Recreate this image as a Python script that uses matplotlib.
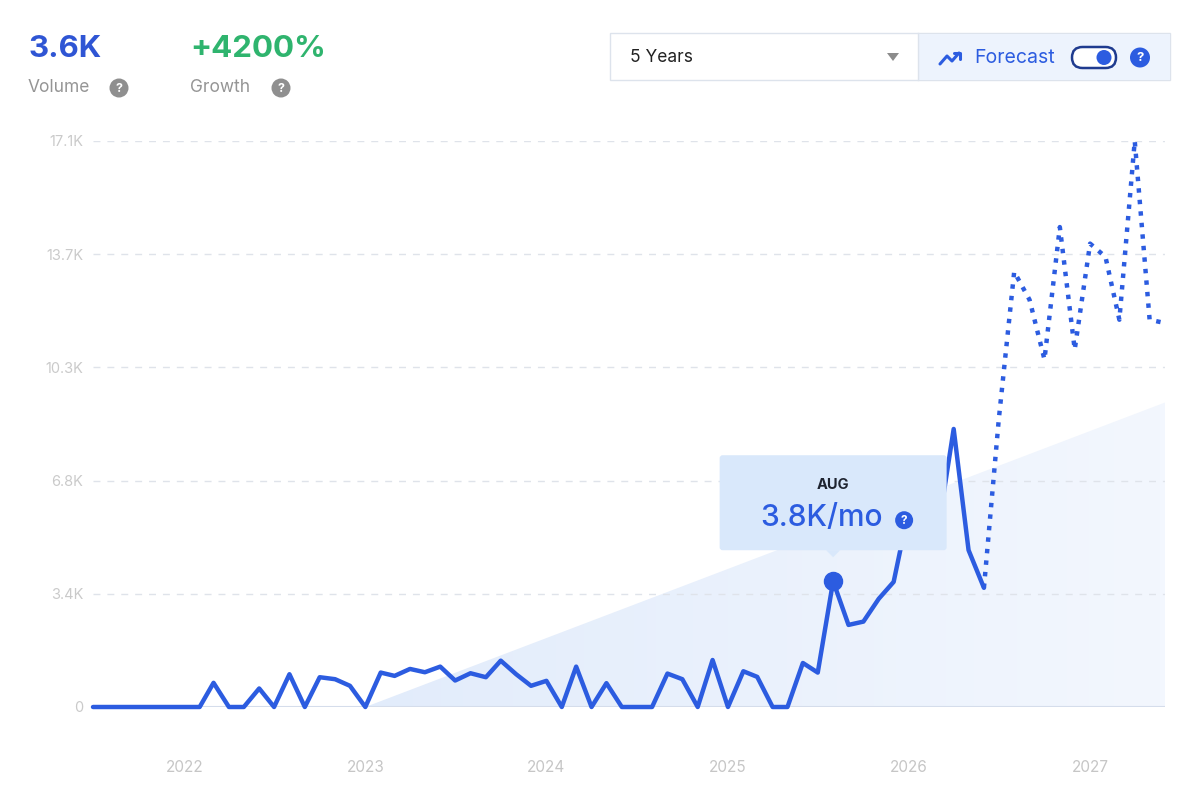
import matplotlib
matplotlib.use('Agg')
import matplotlib.pyplot as plt
import matplotlib.dates as mdates
from matplotlib.colors import LinearSegmentedColormap
from matplotlib.patches import FancyBboxPatch, Rectangle, Circle, Polygon
import numpy as np
import pandas as pd

plt.rcParams['font.family'] = ['Inter', 'DejaVu Sans']

# ---------------- data ----------------
months = pd.date_range('2021-07-01', '2027-06-01', freq='MS')   # 72 months
# measured monthly volume, Jul 2021 .. Jun 2026
actual_values = [
    0, 0, 0, 0, 0, 0, 0, 0, 730, 0, 0, 560,            # Jul21 - Jun22
    0, 990, 0, 900, 840, 640, 0, 1040, 940, 1150, 1050, 1220,   # Jul22 - Jun23
    800, 1020, 900, 1400, 990, 640, 790, 0, 1220, 0, 720, 0,    # Jul23 - Jun24
    0, 0, 1010, 840, 0, 1420, 0, 1080, 910, 0, 0, 1330,         # Jul24 - Jun25
    1040, 3800, 2480, 2580, 3270, 3780, 6000, 6200, 5400, 8400, 4740, 3600,  # Jul25 - Jun26
]
# forecast, Jun 2026 .. Jun 2027
forecast_values = [3600, 8700, 13150, 12300, 10500, 14500, 10800,
                   14000, 13600, 11700, 17100, 11700, 11600]
trend_months = ['2023-01-01', '2027-06-01']
trend_values = [0, 9200]
y_ticks = [0, 3420, 6840, 10260, 13680, 17100]
y_tick_labels = ['0', '3.4K', '6.8K', '10.3K', '13.7K', '17.1K']
year_labels = ['2022', '2023', '2024', '2025', '2026', '2027']
highlight_month = '2025-08-01'
highlight_value = 3800
highlight_label = 'AUG'
highlight_text = '3.8K/mo'
volume_text = '3.6K'
growth_text = '+4200%'
period_text = '5 Years'

# ---------------- styling ----------------
BLUE = '#2c5ce0'
W, H = 1200, 796
fig = plt.figure(figsize=(W / 100, H / 100), dpi=100)
fig.patch.set_facecolor('white')

left, right, top, bottom = 93, 1165, 141, 707
ax = fig.add_axes([left / W, 1 - bottom / H, (right - left) / W, (bottom - top) / H])
ax.set_facecolor('none')

x = mdates.date2num(months.to_pydatetime())
n_act = len(actual_values)
x_act = x[:n_act]
x_fc = x[n_act - 1:n_act - 1 + len(forecast_values)]
x_tr = mdates.date2num(pd.to_datetime(trend_months).to_pydatetime())
x_hi = mdates.date2num(pd.Timestamp(highlight_month).to_pydatetime())

ax.set_xlim(x[0], x[-1])
ax.set_ylim(0, y_ticks[-1])

# trend area with gradient
poly = ax.fill_between(x_tr, [0, 0], trend_values, facecolor='none', lw=0)
cmap = LinearSegmentedColormap.from_list('g', ['#e2ecfb', '#f3f7fe'])
grad = np.linspace(0, 1, 256).reshape(1, -1)
img = ax.imshow(grad, extent=[x_tr[0], x_tr[1], 0, trend_values[1]], aspect='auto',
                cmap=cmap, zorder=0.5, interpolation='bilinear')
img.set_clip_path(poly.get_paths()[0], transform=ax.transData)
ax.set_xlim(x[0], x[-1])
ax.set_ylim(0, y_ticks[-1])

# grid
for v in y_ticks[1:]:
    ax.axhline(v, color='#dfe3ea', lw=1, linestyle=(0, (5, 5)), zorder=1)
ax.axhline(0, color='#d5ddeb', lw=1.5, zorder=1.2)

# lines
ax.plot(x_act, actual_values, color=BLUE, lw=3.2, solid_joinstyle='round',
        solid_capstyle='round', zorder=3, clip_on=False)
ax.plot(x_fc, forecast_values, color=BLUE, lw=3.2, linestyle=(0, (1.0, 1.6)),
        dash_capstyle='butt', zorder=3, clip_on=False)
ax.plot([x_hi], [highlight_value], 'o', color=BLUE, ms=13, zorder=4, clip_on=False)

for s in ax.spines.values():
    s.set_visible(False)
ax.set_yticks(y_ticks, y_tick_labels)
year_pos = mdates.date2num(pd.to_datetime([f'{y}-01-01' for y in year_labels]).to_pydatetime())
ax.set_xticks(year_pos, year_labels)
ax.tick_params(axis='y', length=0, pad=7, labelcolor='#cacaca', labelsize=10.5)
ax.tick_params(axis='x', length=0, pad=38, labelcolor='#c6c6c6', labelsize=11)

# ---------------- overlay (pixel coordinates) ----------------
ov = fig.add_axes([0, 0, 1, 1])
ov.set_xlim(0, W)
ov.set_ylim(H, 0)
ov.axis('off')
ov.set_zorder(5)


def qmark(cx, cy, r, color, fs):
    ov.add_patch(Circle((cx, cy), r, color=color, lw=0))
    ov.text(cx, cy + 0.5, '?', color='white', fontsize=fs, fontweight='bold',
            ha='center', va='center')


# header stats
ov.text(29, 49, volume_text, color='#2f55d4', fontsize=22.5, fontweight='bold', va='center', ha='left')
ov.text(28, 88, 'Volume', color='#959595', fontsize=12.5, va='center', ha='left')
qmark(119, 88, 9.5, '#8f8f8f', 9)
ov.text(190, 49, growth_text, color='#2fb46e', fontsize=22.5, fontweight='bold', va='center', ha='left')
ov.text(190, 88, 'Growth', color='#959595', fontsize=12.5, va='center', ha='left')
qmark(281, 88, 9.5, '#8f8f8f', 9)

# selector box
ov.add_patch(Rectangle((610, 33), 560, 47, facecolor='white', edgecolor='#dde3ec', lw=1))
ov.add_patch(Rectangle((918, 33.5), 251.5, 46, facecolor='#edf3fd', edgecolor='none'))
ov.plot([918, 918], [33, 80], color='#dde3ec', lw=1)
ov.text(630, 57, period_text, color='#222222', fontsize=12.5, va='center', ha='left')
ov.add_patch(Polygon([(887, 53), (899, 53), (893, 61)], closed=True, color='#8c8c8c', lw=0))
# trending icon
ov.plot([940, 947, 952, 959], [64, 56, 61, 53], color=BLUE, lw=2.2, solid_capstyle='round',
        solid_joinstyle='round')
ov.plot([954, 960, 960], [52.5, 52.5, 58.5], color=BLUE, lw=2.2, solid_capstyle='round',
        solid_joinstyle='round')
ov.text(974, 58, 'Forecast', color=BLUE, fontsize=14, va='center', ha='left')
ov.add_patch(FancyBboxPatch((1072, 47), 44, 21, boxstyle='round,pad=0,rounding_size=10.5',
                            facecolor='white', edgecolor='#1f3b8f', lw=1.8))
ov.add_patch(Circle((1104, 57.5), 7.5, color=BLUE, lw=0))
qmark(1140, 57.5, 10, BLUE, 9.5)

# tooltip anchored on highlight point
fig.canvas.draw()
px, py = ax.transData.transform((x_hi, highlight_value))
py = H - py
bw, bh = 227, 95
bx, by = px - bw / 2, py - 31 - bh
ov.add_patch(FancyBboxPatch((bx, by), bw, bh, boxstyle='round,pad=0,rounding_size=3',
                            facecolor='#d9e8fb', edgecolor='none'))
ov.add_patch(Polygon([(px - 7, by + bh), (px + 7, by + bh), (px, by + bh + 7)], closed=True,
                     facecolor='#d9e8fb', edgecolor='none'))
ov.text(px, by + 30, highlight_label, color='#1f2430', fontsize=10.5, fontweight='bold',
        ha='center', va='center')
ov.text(px - 12, by + 63, highlight_text, color=BLUE, fontsize=21.5, fontweight='medium',
        ha='center', va='center')
qmark(px + 71, by + 65, 9, BLUE, 8.5)

fig.savefig('out.png', dpi=100, facecolor='white')
